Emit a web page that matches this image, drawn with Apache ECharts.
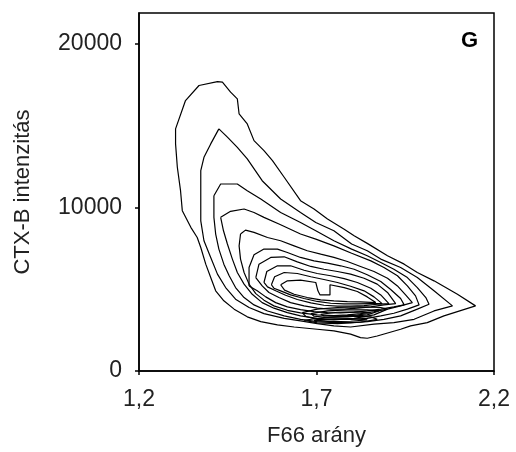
<!DOCTYPE html>
<html>
<head>
<meta charset="utf-8">
<script src="https://cdn.jsdelivr.net/npm/echarts@6/dist/echarts.min.js"></script>
<style>
html,body{margin:0;padding:0;background:#fff;}
#chart{width:516px;height:452px;}
</style>
</head>
<body>
<div id="chart"></div>
<script>
// Axis ticks / labels
var xTicks = [1.2, 1.7, 2.2];
var yTicks = [0, 10000, 20000];
var xTitle = 'F66 arány';
var yTitle = 'CTX-B intenzitás';
var panelLabel = 'G';

// Contour lines, [F66 arány, CTX-B intenzitás], outermost first
var contour1 = [[1.303,14800],[1.331,16530],[1.369,17450],[1.421,17690],[1.435,17650],[1.458,17040],[1.477,16630],[1.482,15710],[1.505,15100],[1.524,14080],[1.552,13470],[1.576,12860],[1.609,11840],[1.655,10410],[1.693,9900],[1.731,9290],[1.778,8670],[1.806,8270],[1.843,7800],[1.900,7040],[1.947,6530],[1.984,6020],[2.031,5510],[2.097,4690],[2.148,3980],[2.059,3370],[2.012,2960],[1.965,2760],[1.937,2550],[1.871,2140],[1.843,2000],[1.824,2040],[1.796,2250],[1.749,2450],[1.702,2550],[1.637,2690],[1.590,2820],[1.543,3020],[1.505,3310],[1.468,3780],[1.439,4290],[1.416,4900],[1.402,5710],[1.388,6530],[1.374,7550],[1.364,8160],[1.346,8780],[1.322,9800],[1.317,11020],[1.308,12450],[1.303,13880],[1.303,14800]];
var contour2 = [[1.425,14800],[1.449,14290],[1.477,13670],[1.505,12960],[1.547,11630],[1.599,10510],[1.655,9690],[1.698,9080],[1.749,8570],[1.799,7760],[1.843,7350],[1.881,6840],[1.937,6330],[1.984,5710],[2.031,4900],[2.083,3980],[2.031,3670],[1.975,3160],[1.918,2960],[1.862,2860],[1.796,2690],[1.749,2760],[1.702,2900],[1.655,3060],[1.609,3220],[1.552,3510],[1.510,3880],[1.472,4390],[1.444,5100],[1.421,5920],[1.402,6940],[1.383,7960],[1.374,9180],[1.374,10610],[1.374,12240],[1.383,13060],[1.402,13880],[1.425,14800]];
var contour3 = [[1.411,10710],[1.430,11430],[1.477,11430],[1.505,11020],[1.543,10510],[1.599,9690],[1.655,9080],[1.698,8570],[1.749,7960],[1.799,7450],[1.843,7040],[1.881,6630],[1.918,6220],[1.956,5710],[1.984,5100],[2.008,4490],[2.017,4080],[1.984,3780],[1.937,3370],[1.890,3160],[1.843,3020],[1.796,2960],[1.749,2960],[1.702,3020],[1.655,3160],[1.609,3370],[1.562,3670],[1.524,4040],[1.496,4490],[1.472,5100],[1.454,5820],[1.439,6530],[1.425,7450],[1.416,8370],[1.411,9390],[1.411,10710]];
var contour4 = [[1.430,9390],[1.458,9760],[1.496,9900],[1.524,9690],[1.552,9390],[1.599,8940],[1.655,8370],[1.698,8060],[1.749,7650],[1.799,7200],[1.853,6730],[1.890,6330],[1.928,5820],[1.956,5200],[1.979,4590],[1.989,4040],[1.956,3780],[1.918,3530],[1.881,3370],[1.843,3220],[1.796,3160],[1.749,3160],[1.702,3220],[1.655,3370],[1.618,3570],[1.580,3840],[1.547,4180],[1.519,4690],[1.496,5310],[1.477,6020],[1.463,6840],[1.449,7760],[1.438,8570],[1.430,9390]];
var contour5 = [[1.486,8370],[1.500,8610],[1.524,8470],[1.562,8160],[1.599,7960],[1.637,7650],[1.674,7350],[1.712,7140],[1.749,6940],[1.787,6690],[1.824,6390],[1.862,6080],[1.900,5670],[1.928,5200],[1.951,4650],[1.970,4180],[1.937,3980],[1.900,3780],[1.862,3630],[1.824,3510],[1.787,3430],[1.749,3390],[1.702,3430],[1.655,3550],[1.618,3710],[1.580,3980],[1.552,4330],[1.529,4730],[1.510,5310],[1.496,6020],[1.486,6840],[1.482,7650],[1.486,8370]];
var contour6 = [[1.510,5200],[1.510,6330],[1.524,7100],[1.552,7450],[1.590,7450],[1.618,7240],[1.655,6940],[1.693,6730],[1.731,6590],[1.768,6430],[1.806,6220],[1.843,5880],[1.881,5470],[1.909,4980],[1.937,4430],[1.947,4040],[1.918,3920],[1.881,3780],[1.843,3670],[1.806,3590],[1.768,3550],[1.731,3570],[1.693,3630],[1.655,3750],[1.618,3920],[1.585,4180],[1.557,4530],[1.533,4900],[1.510,5200]];
var contour7 = [[1.529,5710],[1.538,6530],[1.571,6940],[1.609,6980],[1.646,6670],[1.684,6390],[1.721,6220],[1.759,6080],[1.796,5920],[1.834,5670],[1.871,5310],[1.900,4800],[1.923,4120],[1.890,4040],[1.853,3920],[1.815,3840],[1.778,3780],[1.740,3780],[1.702,3840],[1.665,3980],[1.627,4180],[1.594,4490],[1.566,4800],[1.547,5200],[1.529,5710]];
var contour8 = [[1.552,5410],[1.560,6080],[1.590,6430],[1.627,6430],[1.665,6160],[1.702,5960],[1.740,5820],[1.778,5650],[1.815,5410],[1.853,5060],[1.881,4650],[1.904,4120],[1.871,4080],[1.834,4000],[1.796,3960],[1.759,3960],[1.721,4020],[1.684,4160],[1.646,4370],[1.613,4630],[1.585,4900],[1.562,5140],[1.552,5410]];
var contour9 = [[1.573,5270],[1.582,5760],[1.609,6020],[1.646,5960],[1.684,5760],[1.721,5590],[1.759,5410],[1.796,5180],[1.834,4900],[1.862,4530],[1.885,4120],[1.853,4120],[1.815,4100],[1.778,4100],[1.740,4140],[1.702,4250],[1.665,4430],[1.627,4650],[1.599,4900],[1.580,5060],[1.573,5270]];
var contour10 = [[1.599,5270],[1.618,5510],[1.655,5550],[1.698,5410],[1.704,4900],[1.710,4650],[1.738,4650],[1.738,5270],[1.778,5100],[1.815,4860],[1.843,4530],[1.867,4180],[1.824,4220],[1.787,4240],[1.749,4290],[1.712,4350],[1.674,4490],[1.637,4690],[1.610,4940],[1.599,5270]];
var contour11 = [[1.660,3570],[1.702,3780],[1.759,3880],[1.824,3920],[1.881,3880],[1.900,3780],[1.862,3430],[1.806,3220],[1.749,3120],[1.702,3160],[1.670,3330],[1.660,3570]];
var contour12 = [[1.684,3510],[1.731,3670],[1.787,3730],[1.843,3730],[1.876,3670],[1.843,3430],[1.787,3310],[1.731,3270],[1.693,3350],[1.684,3510]];
var contour13 = [[1.712,3470],[1.759,3590],[1.815,3610],[1.853,3550],[1.815,3410],[1.759,3350],[1.721,3370],[1.712,3470]];
var contour14 = [[1.665,3100],[1.721,3270],[1.787,3350],[1.853,3310],[1.871,3160],[1.824,2980],[1.759,2900],[1.702,2940],[1.665,3100]];
var contour15 = [[1.693,3100],[1.749,3180],[1.806,3200],[1.843,3120],[1.796,3040],[1.740,3020],[1.693,3100]];

var contours = [contour1, contour2, contour3, contour4, contour5, contour6, contour7, contour8, contour9, contour10, contour11, contour12, contour13, contour14, contour15];

var FONT = '"Liberation Sans", Arial, sans-serif';
var chart = echarts.init(document.getElementById('chart'), null, {renderer: 'canvas'});

var series = contours.map(function (c) {
  return {
    type: 'line',
    data: c,
    showSymbol: false,
    symbol: 'none',
    smooth: false,
    silent: true,
    lineStyle: {color: '#000', width: 1.2},
    animation: false
  };
});

chart.setOption({
  animation: false,
  backgroundColor: '#fff',
  grid: {left: 139, right: 22, top: 13, bottom: 80, show: true, borderColor: '#000', borderWidth: 1.5, backgroundColor: 'transparent'},
  xAxis: {
    type: 'value', min: xTicks[0], max: xTicks[xTicks.length - 1], interval: 0.5,
    name: xTitle, nameLocation: 'middle', nameGap: 54,
    nameTextStyle: {fontFamily: FONT, fontSize: 22, color: '#222'},
    axisLine: {show: true, onZero: false, lineStyle: {color: '#000', width: 1.5}},
    axisTick: {show: true, length: 4, lineStyle: {color: '#000', width: 1.5}},
    axisLabel: {fontFamily: FONT, fontSize: 23, color: '#222', margin: 17,
      formatter: function (v) { return v.toFixed(1).replace('.', ','); }},
    splitLine: {show: false}
  },
  yAxis: {
    type: 'value', min: 0, max: 21880,
    name: yTitle, nameLocation: 'middle', nameGap: 105,
    nameTextStyle: {fontFamily: FONT, fontSize: 22, color: '#222'},
    axisLine: {show: true, lineStyle: {color: '#000', width: 1.5}},
    axisTick: {show: true, length: 4, customValues: yTicks, lineStyle: {color: '#000', width: 1.5}},
    axisLabel: {fontFamily: FONT, fontSize: 23, color: '#222', margin: 17, customValues: yTicks,
      formatter: function (v) { return String(v); }},
    splitLine: {show: false}
  },
  graphic: [{
    type: 'text', left: 461, top: 30,
    style: {text: panelLabel, font: 'bold 22px ' + FONT, fill: '#000'}
  }],
  series: series
});
</script>
</body>
</html>
